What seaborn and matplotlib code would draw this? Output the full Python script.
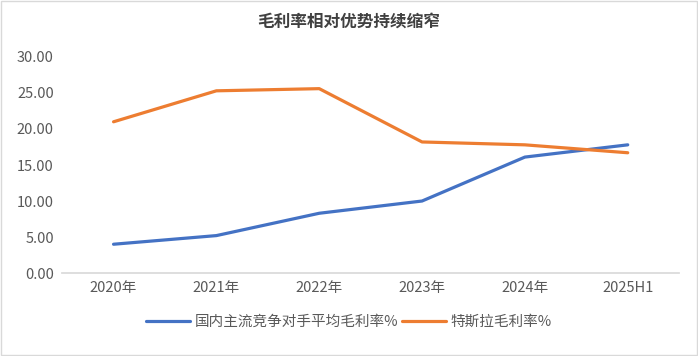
import matplotlib
matplotlib.use("Agg")
import matplotlib.pyplot as plt
import pandas as pd
import seaborn as sns
from matplotlib.patches import Rectangle
from matplotlib.ticker import FormatStrFormatter

years = ["2020年", "2021年", "2022年", "2023年", "2024年", "2025H1"]
domestic_margin = [4.0, 5.2, 8.3, 10.0, 16.1, 17.8]
tesla_margin = [21.0, 25.3, 25.6, 18.2, 17.8, 16.7]
series_names = ["国内主流竞争对手平均毛利率%", "特斯拉毛利率%"]

df = pd.DataFrame({
    "year": years * 2,
    "margin": domestic_margin + tesla_margin,
    "series": [series_names[0]] * len(years) + [series_names[1]] * len(years),
})

sns.set_theme(style="white")
plt.rcParams["font.family"] = ["Noto Sans CJK SC", "DejaVu Sans"]

fig = plt.figure(figsize=(6.98, 3.56), dpi=100)
ax = fig.add_axes([0.089, 0.233, 0.884, 0.607])

sns.lineplot(data=df, x="year", y="margin", hue="series", sort=False,
             palette=["#4472C4", "#ED7D31"], linewidth=2.3, ax=ax)

ax.set_xlim(-0.5, 5.5)
ax.set_ylim(0, 30)
ax.set_yticks(range(0, 31, 5))
ax.yaxis.set_major_formatter(FormatStrFormatter("%.2f"))
ax.set_xlabel("")
ax.set_ylabel("")
for side in ["top", "right", "left"]:
    ax.spines[side].set_visible(False)
ax.spines["bottom"].set_color("#D9D9D9")
ax.tick_params(axis="both", colors="#595959", labelsize=10.5, length=0, pad=6)

ax.legend(loc="lower center", bbox_to_anchor=(0.5, 0.04), bbox_transform=fig.transFigure,
          ncol=2, frameon=False, fontsize=10.5, handlelength=3.0, columnspacing=0.3,
          handletextpad=0.3, labelcolor="#595959")

fig.suptitle("毛利率相对优势持续缩窄", x=0.5, y=0.965, fontsize=12,
             fontweight="bold", color="#404040")

fig.patches.append(Rectangle((0.001, 0.002), 0.997, 0.995, transform=fig.transFigure,
                             fill=False, edgecolor="#D9D9D9", linewidth=1))

fig.savefig("out.png", dpi=100)
